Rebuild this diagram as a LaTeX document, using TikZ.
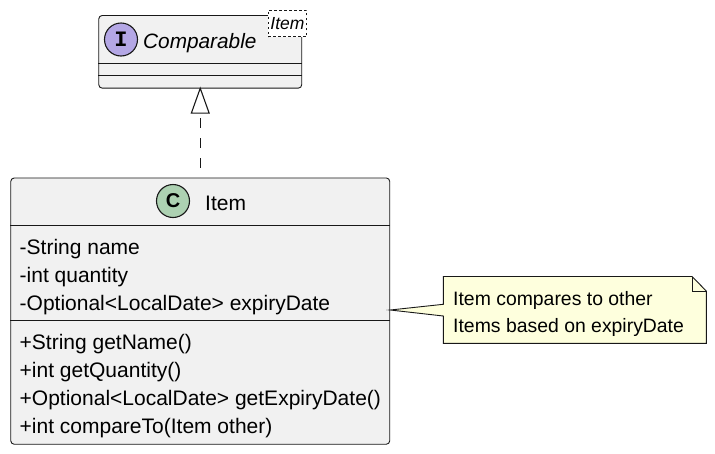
\documentclass[tikz,border=0pt]{standalone}
\usepackage{fontspec}
\setmainfont{Liberation Sans}
\newfontfamily\spotfont{Liberation Mono}
\usetikzlibrary{arrows.meta}
\definecolor{boxfill}{HTML}{F1F1F1}
\definecolor{inkline}{HTML}{181818}
\definecolor{ispot}{HTML}{B4A7E5}
\definecolor{cspot}{HTML}{ADD1B2}
\definecolor{notefill}{HTML}{FEFFDD}
\tikzset{
  x=1pt,y=-1pt,
  classbox/.style={draw=inkline,fill=boxfill,line width=.9pt,rounded corners=3.5pt,inner sep=0,anchor=north west},
  sep/.style={draw=inkline,line width=.9pt},
  member/.style={anchor=base west,inner sep=0,font=\fontsize{21}{24}\selectfont,text=black},
  spot/.style={circle,draw=inkline,line width=1.1pt,inner sep=0,minimum size=33pt,font=\fontsize{22}{22}\selectfont\spotfont\bfseries},
  typebox/.style={draw=inkline,fill=white,line width=.9pt,dash pattern=on 2.5pt off 2.5pt,inner sep=0,minimum width=38.5pt,minimum height=26.5pt,font=\fontsize{17.5}{20}\selectfont\itshape},
  notetext/.style={anchor=base west,inner sep=0,font=\fontsize{19.4}{22}\selectfont,text=black},
  noteline/.style={draw=inkline,line width=.9pt,line join=miter},
}
\begin{document}
\begin{tikzpicture}
\useasboundingbox (0,0) rectangle (715,453);
% Comparable
\node[classbox,minimum width=203pt,minimum height=72.7pt] (comp) at (98.3,15) {};
\draw[sep] (comp.west |- 0,63.3) -- (comp.east |- 0,63.3);
\draw[sep] (comp.west |- 0,75.3) -- (comp.east |- 0,75.3);
\node[spot,fill=ispot] (ispotn) at (121,39.5) {I};
\node[member,font=\fontsize{20.8}{24}\selectfont\itshape] (compname) at (143,48) {Comparable};
\node[typebox] (typearg) at (287.5,23.5) {Item};
% Item
\node[classbox,minimum width=379pt,minimum height=266.3pt] (item) at (10.3,177.5) {};
\draw[sep] (item.west |- 0,225.3) -- (item.east |- 0,225.3);
\draw[sep] (item.west |- 0,320.3) -- (item.east |- 0,320.3);
\node[spot,fill=cspot] (cspotn) at (173,201) {\fontsize{20}{20}\selectfont\rmfamily\bfseries C};
\node[member] (itemname) at (205,210) {Item};
\node[member] (m1) at (19.5,254) {-String name};
\node[member] (m2) at (19.5,282) {-int quantity};
\node[member] (m3) at (19.5,310) {-Optional<LocalDate> expiryDate};
\node[member] (m4) at (19.5,349) {+String getName()};
\node[member] (m5) at (19.5,377) {+int getQuantity()};
\node[member] (m6) at (19.5,405) {+Optional<LocalDate> getExpiryDate()};
\node[member] (m7) at (19.5,433) {+int compareTo(Item other)};
% Realization
\draw[draw=inkline,line width=1.1pt,dash pattern=on 10pt off 10pt,
  -{Triangle[open,length=27pt,width=19pt,fill=white]},shorten <=10pt,shorten >=-2pt]
  (item.north) -- (comp.south -| item.north);
% Note
\coordinate (pointer) at (item.east |- 0,310);
\coordinate (nw) at (443.3,276.5);
\coordinate (se) at (706.3,343.3);
\path[noteline,fill=notefill] (nw) -- (692,276.5) -- (706.3,291) -- (se) -- (443.3,343.3)
  -- (443.3,316) -- (pointer) -- (443.3,304.3) -- cycle;
\draw[noteline] (692,276.5) -- (692,291) -- (706.3,291);
\node[notetext] (n1) at (453,305) {Item compares to other};
\node[notetext] (n2) at (453,332) {Items based on expiryDate};
\end{tikzpicture}
\end{document}
